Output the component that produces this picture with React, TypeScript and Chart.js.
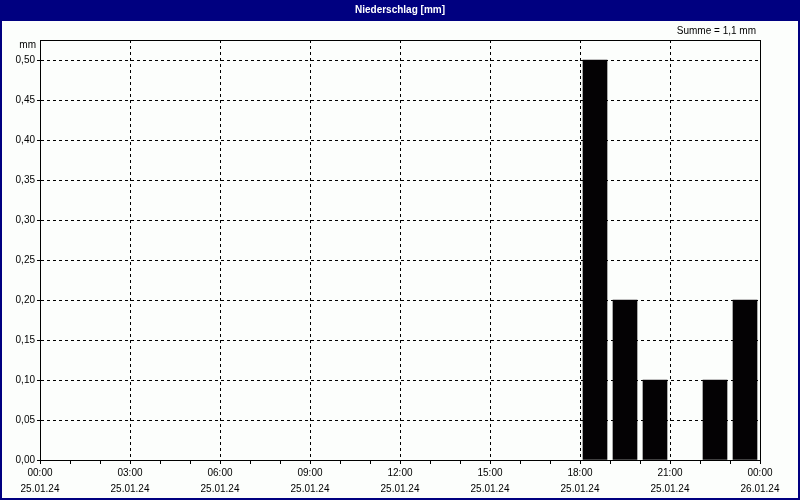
import React, { useEffect, useRef } from "react";
import { Chart, registerables } from "chart.js";

Chart.register(...registerables);

const titleText = "Niederschlag [mm]";
const sumText = "Summe = 1,1 mm";
const unitText = "mm";
const slotStartHours = [18, 19, 20, 21, 22, 23];
const rainValues = [0.5, 0.2, 0.1, 0, 0.1, 0.2];
const timeLabels = ["00:00", "03:00", "06:00", "09:00", "12:00", "15:00", "18:00", "21:00", "00:00"];
const dateLabels = ["25.01.24", "25.01.24", "25.01.24", "25.01.24", "25.01.24", "25.01.24", "25.01.24", "25.01.24", "26.01.24"];

const NAVY = "#000080";
const BG = "#FCFEFC";
const FONT = "Liberation Sans, Arial, sans-serif";

const framePlugin = {
  id: "frame",
  beforeDraw(chart: any) {
    const { ctx, width, height } = chart;
    ctx.save();
    ctx.fillStyle = BG;
    ctx.fillRect(0, 0, width, height);
    ctx.restore();
  },
  afterDraw(chart: any) {
    const { ctx, width, height, chartArea } = chart;
    ctx.save();
    ctx.fillStyle = NAVY;
    ctx.fillRect(0, 0, width, 21);
    ctx.fillRect(0, 0, 2, height);
    ctx.fillRect(width - 2, 0, 2, height);
    ctx.fillRect(0, height - 2, width, 2);
    ctx.fillStyle = "#ffffff";
    ctx.font = `bold 10px ${FONT}`;
    ctx.textAlign = "center";
    ctx.textBaseline = "middle";
    ctx.fillText(titleText, width / 2, 10.5);
    ctx.fillStyle = "#000";
    ctx.font = `10px ${FONT}`;
    ctx.textAlign = "right";
    ctx.fillText(sumText, chartArea.right - 4, 31);
    ctx.fillText(unitText, chartArea.left - 4, 45);
    ctx.strokeStyle = "#000";
    ctx.lineWidth = 1;
    ctx.strokeRect(chartArea.left + 0.5, chartArea.top + 0.5, chartArea.right - chartArea.left, chartArea.bottom - chartArea.top);
    ctx.restore();
  },
};

export default function App() {
  const ref = useRef<HTMLCanvasElement>(null);
  useEffect(() => {
    document.body.style.margin = "0";
    const canvas = ref.current!;
    const chart = new Chart(canvas, {
      type: "bar",
      data: {
        datasets: [
          {
            data: slotStartHours.map((h, i) => ({ x: h + 0.5, y: rainValues[i] === 0 ? null : rainValues[i] })),
            backgroundColor: "#040204",
            borderWidth: 0,
            barThickness: 24,
          },
        ],
      },
      options: {
        animation: false,
        responsive: false,
        devicePixelRatio: 1,
        layout: { padding: { left: 0, right: 40, top: 40, bottom: 0 } },
        plugins: { legend: { display: false }, title: { display: false }, tooltip: { enabled: false } },
        scales: {
          x: {
            type: "linear",
            min: 0,
            max: 24,
            offset: false,
            afterFit: (s: any) => { s.height = 40; s.paddingLeft = 0; s.paddingRight = 0; },
            ticks: {
              stepSize: 1,
              autoSkip: false,
              maxRotation: 0,
              padding: 1,
              color: "#000",
              font: { family: FONT, size: 10, lineHeight: 1.6 },
              callback: (v: any) => {
                const n = Number(v);
                if (n % 3 !== 0) return "";
                const i = n / 3;
                return [timeLabels[i], dateLabels[i]];
              },
            },
            grid: {
              offset: false,
              color: (c: any) => (c.tick && c.tick.value % 3 === 0 ? "#000" : "rgba(0,0,0,0)"),
              tickColor: "#000",
              tickLength: 4,
              lineWidth: 1,
            },
            border: { display: true, color: "#000", dash: [3, 3] },
          },
          y: {
            min: 0,
            max: 0.525,
            afterFit: (s: any) => { s.width = 40; },
            ticks: {
              stepSize: 0.05,
              includeBounds: false,
              padding: 2,
              color: "#000",
              font: { family: FONT, size: 10 },
              callback: (v: any) => Number(v).toFixed(2).replace(".", ","),
            },
            grid: { color: "#000", tickColor: "#000", tickLength: 3, lineWidth: 1 },
            border: { display: true, color: "#000", dash: [3, 3] },
          },
        },
      },
      plugins: [framePlugin],
    } as any);
    return () => chart.destroy();
  }, []);
  return <canvas ref={ref} width={800} height={500} style={{ display: "block" }} />;
}
